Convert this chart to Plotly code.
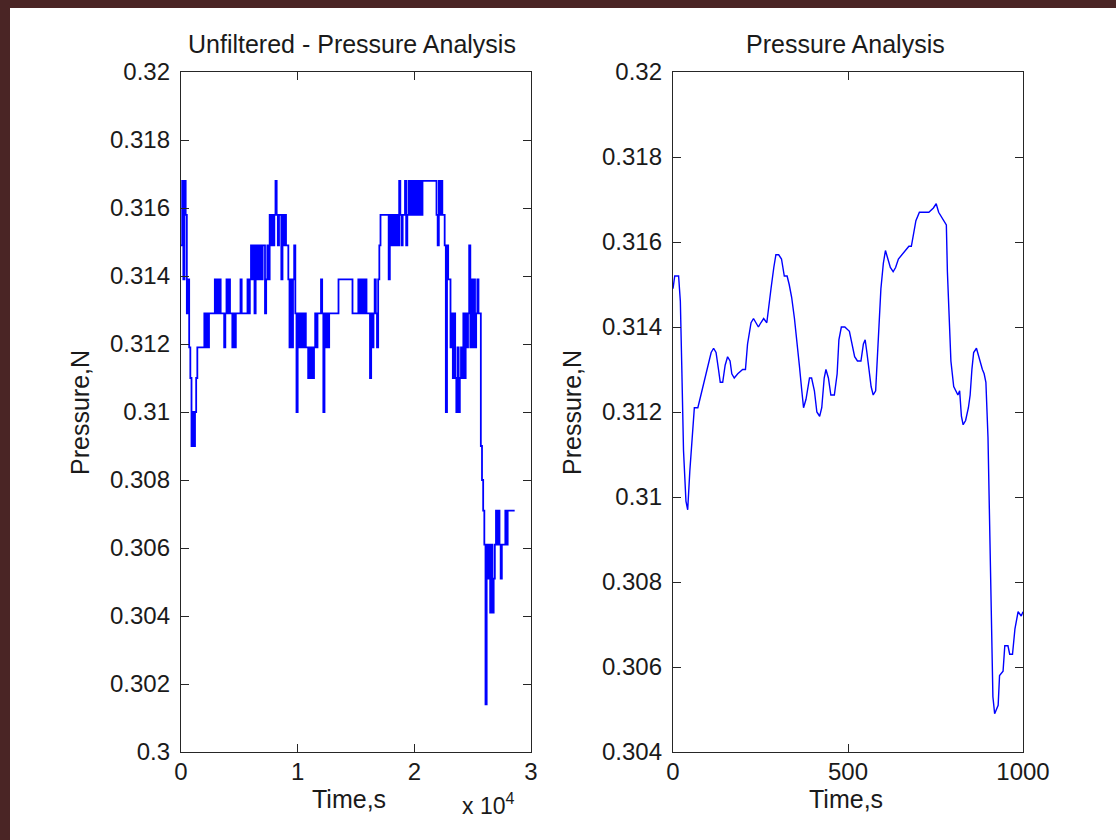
import plotly.graph_objects as go

# ---------------- data ----------------
# Unfiltered pressure (N), one value every RAW_DT seconds starting at t = 0
RAW_DT = 100
raw_pressure = [
    0.3149, 0.3168, 0.3139, 0.3168, 0.3158, 0.3129, 0.3139, 0.3119, 0.3110, 0.3090,
    0.3100, 0.3090, 0.3100, 0.3110, 0.3119, 0.3119, 0.3119, 0.3119, 0.3119, 0.3119,
    0.3129, 0.3119, 0.3129, 0.3119, 0.3129, 0.3129, 0.3129, 0.3129, 0.3129, 0.3139,
    0.3129, 0.3139, 0.3129, 0.3139, 0.3129, 0.3129, 0.3129, 0.3119, 0.3129, 0.3139,
    0.3129, 0.3139, 0.3129, 0.3129, 0.3119, 0.3129, 0.3119, 0.3129, 0.3129, 0.3129,
    0.3129, 0.3139, 0.3129, 0.3129, 0.3129, 0.3129, 0.3129, 0.3139, 0.3129, 0.3139,
    0.3149, 0.3139, 0.3149, 0.3129, 0.3149, 0.3139, 0.3149, 0.3139, 0.3149, 0.3139,
    0.3149, 0.3149, 0.3129, 0.3139, 0.3149, 0.3139, 0.3158, 0.3149, 0.3158, 0.3149,
    0.3158, 0.3168, 0.3158, 0.3149, 0.3158, 0.3158, 0.3139, 0.3158, 0.3149, 0.3158,
    0.3149, 0.3149, 0.3139, 0.3119, 0.3139, 0.3119, 0.3139, 0.3149, 0.3129, 0.3100,
    0.3129, 0.3119, 0.3129, 0.3119, 0.3129, 0.3119, 0.3129, 0.3119, 0.3119, 0.3110,
    0.3119, 0.3110, 0.3119, 0.3110, 0.3119, 0.3129, 0.3119, 0.3129, 0.3129, 0.3129,
    0.3139, 0.3129, 0.3100, 0.3129, 0.3119, 0.3129, 0.3119, 0.3129, 0.3129, 0.3129,
    0.3129, 0.3129, 0.3129, 0.3129, 0.3129, 0.3139, 0.3139, 0.3139, 0.3139, 0.3139,
    0.3139, 0.3139, 0.3139, 0.3139, 0.3139, 0.3139, 0.3139, 0.3129, 0.3129, 0.3129,
    0.3129, 0.3129, 0.3139, 0.3129, 0.3139, 0.3129, 0.3139, 0.3129, 0.3139, 0.3129,
    0.3129, 0.3129, 0.3110, 0.3129, 0.3119, 0.3129, 0.3139, 0.3129, 0.3119, 0.3139,
    0.3149, 0.3158, 0.3158, 0.3158, 0.3158, 0.3158, 0.3158, 0.3158, 0.3139, 0.3158,
    0.3149, 0.3158, 0.3149, 0.3158, 0.3149, 0.3158, 0.3149, 0.3168, 0.3158, 0.3149,
    0.3158, 0.3158, 0.3168, 0.3149, 0.3158, 0.3168, 0.3158, 0.3168, 0.3158, 0.3168,
    0.3158, 0.3168, 0.3158, 0.3168, 0.3158, 0.3168, 0.3158, 0.3168, 0.3168, 0.3168,
    0.3168, 0.3168, 0.3168, 0.3168, 0.3168, 0.3168, 0.3168, 0.3168, 0.3168, 0.3158,
    0.3149, 0.3168, 0.3158, 0.3168, 0.3158, 0.3158, 0.3149, 0.3100, 0.3149, 0.3139,
    0.3139, 0.3119, 0.3129, 0.3110, 0.3129, 0.3110, 0.3100, 0.3119, 0.3100, 0.3110,
    0.3119, 0.3110, 0.3129, 0.3110, 0.3129, 0.3119, 0.3129, 0.3149, 0.3119, 0.3139,
    0.3119, 0.3139, 0.3119, 0.3129, 0.3139, 0.3129, 0.3129, 0.3090, 0.3080, 0.3071,
    0.3061, 0.3014, 0.3061, 0.3051, 0.3061, 0.3041, 0.3061, 0.3041, 0.3051, 0.3061,
    0.3071, 0.3061, 0.3071, 0.3061, 0.3051, 0.3061, 0.3061, 0.3061, 0.3071, 0.3061,
    0.3071, 0.3071, 0.3071, 0.3071, 0.3071, 0.3071, 0.3071,
]

# Filtered pressure (N) against time (s)
filt_time = [
    0, 5, 16, 21, 25, 30, 37, 42, 48, 55, 61, 71, 80, 90, 99, 109, 116, 123, 130, 135,
    142, 149, 156, 163, 168, 175, 185, 199, 207, 213, 223, 230, 237, 244, 251, 259, 268, 273, 280, 288,
    294, 302, 310, 318, 326, 332, 339, 347, 354, 361, 368, 373, 380, 390, 396, 404, 411, 419, 425, 432,
    437, 444, 451, 461, 469, 474, 481, 491, 504, 511, 519, 527, 537, 544, 549, 554, 559, 566, 572, 579,
    584, 589, 594, 601, 607, 614, 621, 629, 636, 644, 654, 664, 674, 681, 687, 694, 704, 719, 731, 744,
    752, 759, 767, 774, 781, 784, 789, 794, 802, 809, 814, 819, 824, 829, 836, 844, 849, 854, 859, 867,
    874, 879, 884, 889, 894, 900, 905, 910, 914, 919, 929, 933, 943, 948, 957, 962, 970, 977, 986, 995,
    1000,
]
filt_pressure = [
    0.3149, 0.3152, 0.3152, 0.3146, 0.3131, 0.3111, 0.3099, 0.3097, 0.3106, 0.3115,
    0.3121, 0.3121, 0.3124, 0.3127, 0.3130, 0.3134, 0.3135, 0.3134, 0.3130, 0.3127,
    0.3127, 0.3131, 0.3133, 0.3132, 0.3129, 0.3128, 0.3129, 0.3130, 0.3130, 0.3136,
    0.3141, 0.3142, 0.3141, 0.3140, 0.3141, 0.3142, 0.3141, 0.3145, 0.3149, 0.3154,
    0.3157, 0.3157, 0.3156, 0.3152, 0.3152, 0.3150, 0.3147, 0.3142, 0.3137, 0.3131,
    0.3125, 0.3121, 0.3123, 0.3128, 0.3128, 0.3125, 0.3120, 0.3119, 0.3121, 0.3128,
    0.3130, 0.3128, 0.3124, 0.3124, 0.3129, 0.3137, 0.3140, 0.3140, 0.3139, 0.3136,
    0.3133, 0.3132, 0.3132, 0.3136, 0.3137, 0.3134, 0.3130, 0.3126, 0.3124, 0.3125,
    0.3133, 0.3141, 0.3149, 0.3155, 0.3158, 0.3156, 0.3154, 0.3153, 0.3154, 0.3156,
    0.3157, 0.3158, 0.3159, 0.3159, 0.3162, 0.3165, 0.3167, 0.3167, 0.3167, 0.3168,
    0.3169, 0.3167, 0.3166, 0.3165, 0.3164, 0.3153, 0.3141, 0.3132, 0.3126, 0.3125,
    0.3124, 0.3125, 0.3119, 0.3117, 0.3118, 0.3121, 0.3124, 0.3130, 0.3134, 0.3135,
    0.3133, 0.3131, 0.3130, 0.3129, 0.3127, 0.3114, 0.3089, 0.3066, 0.3053, 0.3049,
    0.3051, 0.3058, 0.3059, 0.3065, 0.3065, 0.3063, 0.3063, 0.3069, 0.3073, 0.3072,
    0.3073,
]

# Tick values / labels
left_xticks = [0, 10000, 20000, 30000]
left_xtext = ["0", "1", "2", "3"]
left_yticks = [0.300, 0.302, 0.304, 0.306, 0.308, 0.310, 0.312, 0.314, 0.316, 0.318, 0.320]
left_ytext = ["0.3", "0.302", "0.304", "0.306", "0.308", "0.31", "0.312", "0.314", "0.316", "0.318", "0.32"]
right_xticks = [0, 500, 1000]
right_xtext = ["0", "500", "1000"]
right_yticks = [0.304, 0.306, 0.308, 0.310, 0.312, 0.314, 0.316, 0.318, 0.320]
right_ytext = ["0.304", "0.306", "0.308", "0.31", "0.312", "0.314", "0.316", "0.318", "0.32"]

# ---------------- figure ----------------
W, H = 1116, 840
FONT = "Liberation Sans, Arial, Helvetica, sans-serif"
INK = "#262626"
TXT = "#1a1a1a"
BLUE = "#0000ff"
BORDER = "#4a2525"

def px_x(p):
    return p / W

def px_y(p):
    return 1 - p / H

fig = go.Figure()
fig.add_trace(go.Scatter(
    x0=0, dx=RAW_DT, y=raw_pressure, mode="lines",
    line=dict(color=BLUE, width=1.8, shape="hv"),
    xaxis="x", yaxis="y", showlegend=False, hoverinfo="skip",
))
fig.add_trace(go.Scatter(
    x=filt_time, y=filt_pressure, mode="lines",
    line=dict(color=BLUE, width=1.4),
    xaxis="x2", yaxis="y2", showlegend=False, hoverinfo="skip",
))

axis_style = dict(
    showline=True, linecolor=INK, linewidth=1.3, mirror="allticks",
    ticks="inside", ticklen=8, tickwidth=1.3, tickcolor=INK,
    showgrid=False, zeroline=False, automargin=False,
    tickfont=dict(family=FONT, size=24, color=TXT),
    tickmode="array",
)

ydom = [px_y(752), px_y(72)]
fig.update_layout(
    width=W, height=H,
    margin=dict(l=0, r=0, t=0, b=0, pad=0),
    paper_bgcolor="white", plot_bgcolor="white",
    font=dict(family=FONT, color=TXT),
    xaxis=dict(axis_style, domain=[px_x(181), px_x(531)], range=[0, 30000],
               ticklabelstandoff=-2,
               tickvals=left_xticks, ticktext=left_xtext, anchor="y"),
    yaxis=dict(axis_style, domain=ydom, range=[0.3, 0.32], ticklabelstandoff=5,
               tickvals=left_yticks, ticktext=left_ytext, anchor="x"),
    xaxis2=dict(axis_style, domain=[px_x(673), px_x(1023)], range=[0, 1000],
                ticklabelstandoff=-2,
                tickvals=right_xticks, ticktext=right_xtext, anchor="y2"),
    yaxis2=dict(axis_style, domain=ydom, range=[0.304, 0.32], ticklabelstandoff=5,
                tickvals=right_yticks, ticktext=right_ytext, anchor="x2"),
    shapes=[
        dict(type="rect", xref="paper", yref="paper", x0=0, x1=1, y0=px_y(8), y1=1,
             fillcolor=BORDER, line=dict(width=0), layer="above"),
        dict(type="rect", xref="paper", yref="paper", x0=0, x1=px_x(10), y0=0, y1=1,
             fillcolor=BORDER, line=dict(width=0), layer="above"),
    ],
)

def label(text, x, y, size=25, angle=0):
    fig.add_annotation(text=text, x=px_x(x), y=px_y(y), xref="paper", yref="paper",
                       showarrow=False, textangle=angle, xanchor="center", yanchor="middle",
                       font=dict(family=FONT, size=size, color=TXT))

label("Unfiltered - Pressure Analysis", 352, 44)
label("Pressure Analysis", 845, 44)
label("Pressure,N", 80, 413, angle=-90)
label("Pressure,N", 572, 413, angle=-90)
label("Time,s", 349, 799)
label("Time,s", 846, 799)
label("x 10<sup>4</sup>", 488, 804, size=23)

# the page puts the figure flush with the window corner
fig.write_html("out.html", config={"displayModeBar": False},
               post_script="document.body.style.margin='0';")
